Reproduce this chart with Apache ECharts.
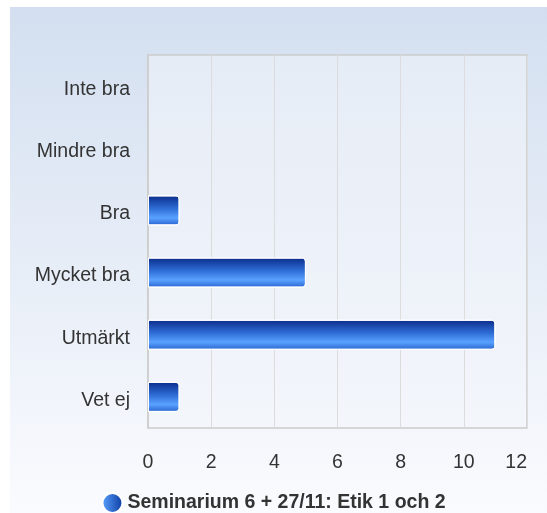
<!DOCTYPE html>
<html>
<head>
<meta charset="utf-8">
<script src="https://cdn.jsdelivr.net/npm/echarts@6/dist/echarts.min.js"></script>
<style>
html,body{margin:0;padding:0;background:#fff;}
#chart{width:547px;height:513px;}
</style>
</head>
<body>
<div id="chart"></div>
<script>
var categories = ['Inte bra', 'Mindre bra', 'Bra', 'Mycket bra', 'Utmärkt', 'Vet ej'];
var values = [0, 0, 1, 5, 11, 1];
var seriesName = 'Seminarium 6 + 27/11: Etik 1 och 2';
var xTicks = [0, 2, 4, 6, 8, 10, 12];

var myChart = echarts.init(document.getElementById('chart'));

// bar fill: dark on top, bright band low
var barColor = new echarts.graphic.LinearGradient(0, 0, 0, 1, [
    {offset: 0, color: '#0a2c8a'},
    {offset: 0.45, color: '#2f6fd8'},
    {offset: 0.75, color: '#5aa2ff'},
    {offset: 1, color: '#2763cf'}
]);

// zero values get no white outline
var barData = values.map(function (v) {
    return v === 0 ? {value: v, itemStyle: {borderWidth: 0, opacity: 0}} : v;
});

myChart.setOption({
    textStyle: {fontFamily: 'Liberation Sans, Arial, sans-serif'},
    graphic: [{
        type: 'rect',
        z: -10,
        shape: {x: 10, y: 7, width: 537, height: 506},
        style: {
            fill: new echarts.graphic.LinearGradient(0, 0, 0, 1, [
                {offset: 0, color: '#d3dff0'},
                {offset: 1, color: '#fafbfe'}
            ])
        }
    }],
    grid: {
        left: 148,
        right: 20,
        top: 55,
        bottom: 85,
        show: true,
        backgroundColor: new echarts.graphic.LinearGradient(0, 0, 0, 1, [
            {offset: 0, color: '#e6ecf6'},
            {offset: 1, color: '#f3f6fb'}
        ]),
        borderColor: '#cccccc',
        borderWidth: 1.5
    },
    legend: {
        top: 487,
        left: 'center',
        itemWidth: 20,
        itemHeight: 20,
        itemGap: 6,
        icon: 'circle',
        data: [{name: seriesName, itemStyle: {color: new echarts.graphic.LinearGradient(0, 0, 1, 0, [
            {offset: 0, color: '#5aa2ff'},
            {offset: 1, color: '#0a3aa0'}
        ])}}],
        textStyle: {fontSize: 19.5, fontWeight: 'bold', color: '#333'}
    },
    xAxis: {
        type: 'value',
        min: xTicks[0],
        max: xTicks[xTicks.length - 1],
        interval: 2,
        axisLine: {show: false},
        axisTick: {show: false},
        axisLabel: {color: '#333', fontSize: 19.5, margin: 25, alignMaxLabel: 'right'},
        splitLine: {lineStyle: {color: '#dcdcdc', width: 1}}
    },
    yAxis: {
        type: 'category',
        inverse: true,
        data: categories,
        axisLine: {show: true, lineStyle: {color: '#cccccc', width: 1.5}},
        axisTick: {show: false},
        axisLabel: {
            margin: 18,
            formatter: function (v) { return '{l|' + v + '}'; },
            rich: {l: {color: '#333', fontSize: 19.5, padding: [7, 0, 0, 0]}}
        }
    },
    series: [{
        name: seriesName,
        type: 'bar',
        data: barData,
        barWidth: 30,
        itemStyle: {
            color: barColor,
            borderColor: '#ffffff',
            borderWidth: 1,
            borderRadius: [0, 3, 3, 0]
        }
    }]
});
</script>
</body>
</html>
